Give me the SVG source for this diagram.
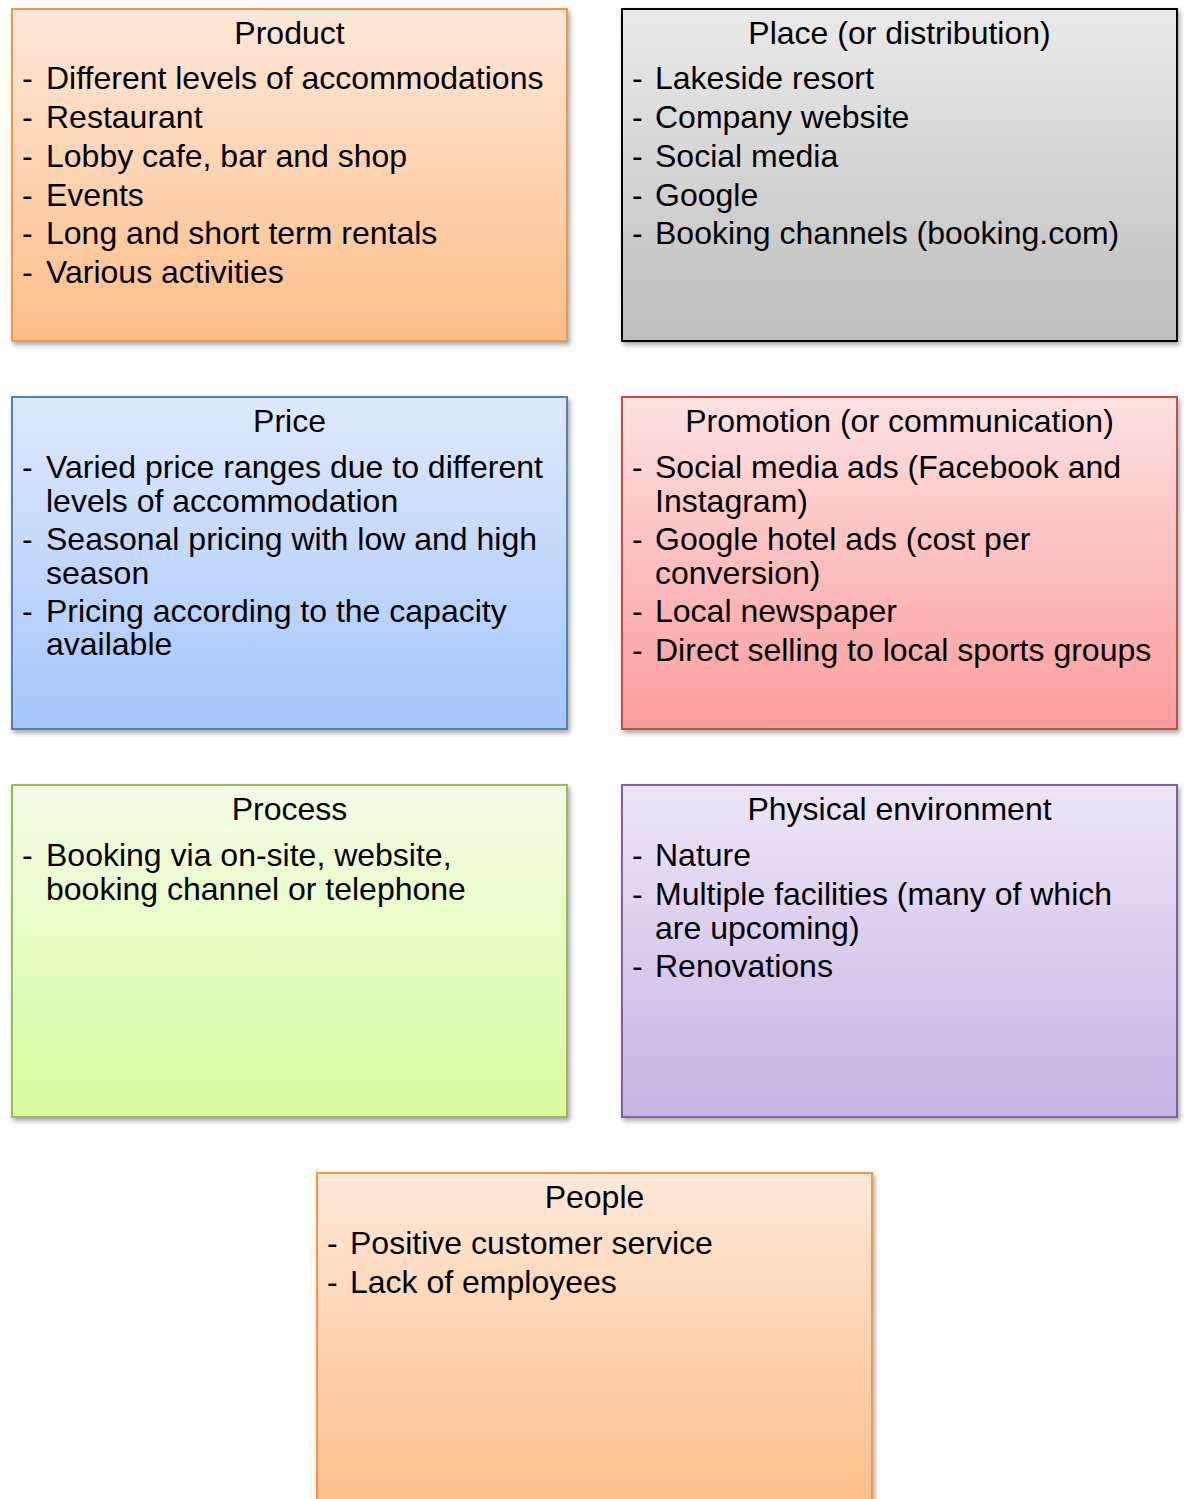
<svg xmlns="http://www.w3.org/2000/svg" width="1184" height="1499" viewBox="0 0 1184 1499">
<style>
.box{stroke-width:2;filter:url(#sh)}
text{font-family:"Liberation Sans",Arial,sans-serif;font-size:32px;fill:#000}
.t{text-anchor:middle}
</style>
<defs>
<filter id="sh" x="-5%" y="-5%" width="112%" height="115%">
<feGaussianBlur in="SourceAlpha" stdDeviation="2.5"/>
<feOffset dx="2" dy="3" result="b"/>
<feComponentTransfer><feFuncA type="linear" slope="0.35"/></feComponentTransfer>
<feMerge><feMergeNode/><feMergeNode in="SourceGraphic"/></feMerge>
</filter>
<linearGradient id="gO" x1="0" y1="0" x2="0" y2="1"><stop offset="0" stop-color="#FEE8D9"/><stop offset="1" stop-color="#FDBE89"/></linearGradient>
<linearGradient id="gG" x1="0" y1="0" x2="0" y2="1"><stop offset="0" stop-color="#EAEAEA"/><stop offset="1" stop-color="#BEBEBE"/></linearGradient>
<linearGradient id="gB" x1="0" y1="0" x2="0" y2="1"><stop offset="0" stop-color="#DFE9FC"/><stop offset="1" stop-color="#A6C6FC"/></linearGradient>
<linearGradient id="gR" x1="0" y1="0" x2="0" y2="1"><stop offset="0" stop-color="#FDE1E1"/><stop offset="1" stop-color="#FB9C9C"/></linearGradient>
<linearGradient id="gN" x1="0" y1="0" x2="0" y2="1"><stop offset="0" stop-color="#F4FDE6"/><stop offset="1" stop-color="#D8FB9F"/></linearGradient>
<linearGradient id="gP" x1="0" y1="0" x2="0" y2="1"><stop offset="0" stop-color="#EDE6F6"/><stop offset="1" stop-color="#C8B2E5"/></linearGradient>
</defs>
<rect width="1184" height="1499" fill="#fff"/>
<g id="connectors"/>
<g id="product">
<rect class="box" x="12" y="9" width="555" height="332" fill="url(#gO)" stroke="#F79646"/>
<text class="t" x="289.5" y="44">Product</text>
<text x="22" y="89">-</text><text x="46" y="89">Different levels of accommodations</text>
<text x="22" y="128">-</text><text x="46" y="128">Restaurant</text>
<text x="22" y="167">-</text><text x="46" y="167">Lobby cafe, bar and shop</text>
<text x="22" y="206">-</text><text x="46" y="206">Events</text>
<text x="22" y="244">-</text><text x="46" y="244">Long and short term rentals</text>
<text x="22" y="283">-</text><text x="46" y="283">Various activities</text>
</g>
<g id="place">
<rect class="box" x="622" y="9" width="555" height="332" fill="url(#gG)" stroke="#000"/>
<text class="t" x="899.5" y="44">Place (or distribution)</text>
<text x="632" y="89">-</text><text x="655" y="89">Lakeside resort</text>
<text x="632" y="128">-</text><text x="655" y="128">Company website</text>
<text x="632" y="167">-</text><text x="655" y="167">Social media</text>
<text x="632" y="206">-</text><text x="655" y="206">Google</text>
<text x="632" y="244">-</text><text x="655" y="244">Booking channels (booking.com)</text>
</g>
<g id="price">
<rect class="box" x="12" y="397" width="555" height="332" fill="url(#gB)" stroke="#4F81BD"/>
<text class="t" x="289.5" y="432">Price</text>
<text x="22" y="478">-</text><text x="46" y="478">Varied price ranges due to different</text>
<text x="46" y="512">levels of accommodation</text>
<text x="22" y="550">-</text><text x="46" y="550">Seasonal pricing with low and high</text>
<text x="46" y="584">season</text>
<text x="22" y="622">-</text><text x="46" y="622">Pricing according to the capacity</text>
<text x="46" y="655">available</text>
</g>
<g id="promotion">
<rect class="box" x="622" y="397" width="555" height="332" fill="url(#gR)" stroke="#C0504D"/>
<text class="t" x="899.5" y="432">Promotion (or communication)</text>
<text x="632" y="478">-</text><text x="655" y="478">Social media ads (Facebook and</text>
<text x="655" y="512">Instagram)</text>
<text x="632" y="550">-</text><text x="655" y="550">Google hotel ads (cost per</text>
<text x="655" y="584">conversion)</text>
<text x="632" y="622">-</text><text x="655" y="622">Local newspaper</text>
<text x="632" y="661">-</text><text x="655" y="661">Direct selling to local sports groups</text>
</g>
<g id="process">
<rect class="box" x="12" y="785" width="555" height="332" fill="url(#gN)" stroke="#9BBB59"/>
<text class="t" x="289.5" y="820">Process</text>
<text x="22" y="866">-</text><text x="46" y="866">Booking via on-site, website,</text>
<text x="46" y="900">booking channel or telephone</text>
</g>
<g id="physical">
<rect class="box" x="622" y="785" width="555" height="332" fill="url(#gP)" stroke="#8064A2"/>
<text class="t" x="899.5" y="820">Physical environment</text>
<text x="632" y="866">-</text><text x="655" y="866">Nature</text>
<text x="632" y="905">-</text><text x="655" y="905">Multiple facilities (many of which</text>
<text x="655" y="939">are upcoming)</text>
<text x="632" y="977">-</text><text x="655" y="977">Renovations</text>
</g>
<g id="people">
<rect class="box" x="317" y="1173" width="555" height="340" fill="url(#gO)" stroke="#F79646"/>
<text class="t" x="594.5" y="1208">People</text>
<text x="327" y="1254">-</text><text x="350" y="1254">Positive customer service</text>
<text x="327" y="1293">-</text><text x="350" y="1293">Lack of employees</text>
</g>
</svg>
